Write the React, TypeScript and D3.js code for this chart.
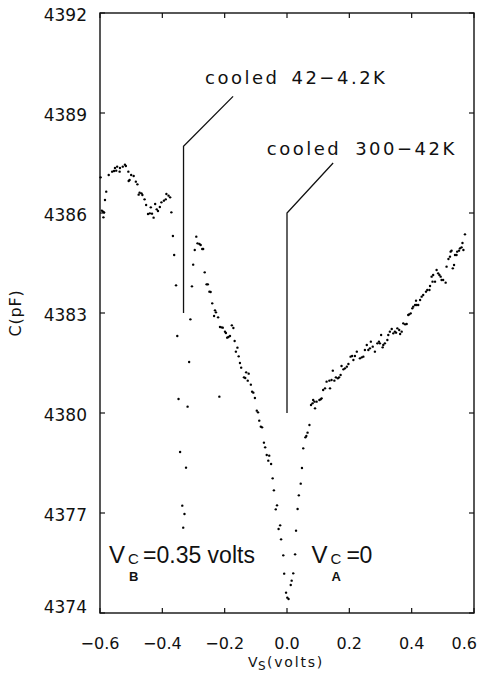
import React from "react";
import * as d3 from "d3";

// Axis ticks
const xTicks = [-0.6, -0.4, -0.2, 0, 0.2, 0.4, 0.6];
const yTicks = [4374, 4377, 4380, 4383, 4386, 4389, 4392];

// Hump region at negative bias
const humpV = [-0.598, -0.594, -0.59, -0.587, -0.589, -0.584, -0.58, -0.572, -0.561, -0.555, -0.552, -0.548, -0.545, -0.537, -0.536, -0.527, -0.52, -0.517, -0.509, -0.5, -0.492, -0.505, -0.508, -0.485, -0.48, -0.473, -0.467, -0.476, -0.464, -0.457, -0.452, -0.437, -0.423, -0.408, -0.403, -0.395, -0.389, -0.387, -0.38, -0.375, -0.446, -0.44, -0.433, -0.428, -0.418, -0.414, -0.371];
const humpC = [4387.07, 4386.07, 4386.04, 4386.02, 4385.87, 4386.39, 4386.64, 4387.14, 4387.24, 4387.26, 4387.35, 4387.27, 4387.39, 4387.24, 4387.35, 4387.39, 4387.45, 4387.41, 4387.24, 4387.14, 4387.11, 4386.99, 4386.96, 4386.94, 4386.86, 4386.61, 4386.59, 4386.55, 4386.54, 4386.41, 4386.24, 4386.17, 4386.27, 4386.18, 4386.32, 4386.37, 4386.41, 4386.57, 4386.52, 4386.47, 4385.97, 4385.99, 4385.98, 4385.86, 4386.11, 4386.06, 4386.02];

// Dip at V_CB
const dipBV = [-0.366, -0.362, -0.356, -0.352, -0.348, -0.343, -0.336, -0.333, -0.329, -0.324, -0.319, -0.314, -0.31, -0.305, -0.301, -0.296, -0.291];
const dipBC = [4385.31, 4384.74, 4383.83, 4382.31, 4380.42, 4378.83, 4377.22, 4376.56, 4376.97, 4378.36, 4380.19, 4381.53, 4382.81, 4383.8, 4384.45, 4384.89, 4385.29];

// Descending branch toward V_CA
const descV = [-0.287, -0.281, -0.277, -0.272, -0.269, -0.264, -0.258, -0.254, -0.249, -0.245, -0.24, -0.231, -0.228, -0.234, -0.221, -0.215, -0.21, -0.206, -0.177, -0.172, -0.199, -0.196, -0.192, -0.188, -0.183, -0.168, -0.159, -0.164, -0.155, -0.151, -0.147, -0.131, -0.123, -0.138, -0.134, -0.126, -0.116, -0.112, -0.108, -0.103, -0.217, -0.097, -0.093, -0.089, -0.084, -0.08, -0.074, -0.07, -0.065, -0.057, -0.06, -0.051, -0.046, -0.042, -0.032, -0.036, -0.022, -0.027, -0.019, -0.012, -0.009, -0.003, 0.001, 0.005];
const descC = [4385.09, 4385.07, 4385.04, 4384.92, 4384.92, 4384.22, 4383.86, 4383.86, 4383.64, 4383.63, 4383.29, 4383.08, 4383.02, 4382.91, 4382.87, 4382.58, 4382.57, 4382.56, 4382.63, 4382.55, 4382.44, 4382.4, 4382.26, 4382.28, 4382.31, 4382.16, 4381.96, 4381.84, 4381.7, 4381.5, 4381.36, 4381.22, 4381.18, 4381.07, 4381.05, 4380.97, 4380.85, 4380.64, 4380.61, 4380.45, 4380.49, 4380.07, 4380.02, 4379.77, 4379.59, 4379.57, 4379.11, 4378.97, 4378.74, 4378.72, 4378.57, 4378.47, 4378.04, 4377.68, 4377.23, 4377.11, 4376.63, 4376.52, 4376.21, 4375.73, 4375.18, 4374.61, 4374.46, 4374.42];

// Ascending branch
const ascV = [0.012, 0.015, 0.02, 0.026, 0.029, 0.034, 0.038, 0.044, 0.048, 0.052, 0.059, 0.062, 0.066, 0.072, 0.077, 0.082, 0.088, 0.09, 0.084, 0.095, 0.104, 0.108, 0.111, 0.116, 0.122, 0.127, 0.136, 0.138, 0.143, 0.147, 0.152, 0.157, 0.163, 0.167, 0.172, 0.175, 0.181, 0.186, 0.192, 0.197, 0.204, 0.209, 0.213, 0.218, 0.224, 0.234, 0.24, 0.245, 0.25, 0.256, 0.261, 0.266, 0.269, 0.275, 0.282, 0.29, 0.295, 0.298, 0.307, 0.309, 0.314, 0.322, 0.325, 0.302, 0.33, 0.336, 0.341, 0.346, 0.35, 0.354, 0.36, 0.363, 0.368, 0.373, 0.379, 0.384, 0.389, 0.392, 0.397, 0.402, 0.405, 0.411, 0.416, 0.421, 0.414, 0.427, 0.432, 0.437, 0.446, 0.45, 0.457, 0.459, 0.464, 0.469, 0.467, 0.475, 0.48, 0.485, 0.489, 0.493, 0.496, 0.501, 0.509, 0.512, 0.518, 0.523, 0.525, 0.528, 0.532, 0.536, 0.539, 0.544, 0.546, 0.552, 0.555, 0.56, 0.566, 0.563, 0.571];
const ascC = [4374.84, 4374.97, 4375.19, 4375.76, 4376.47, 4377.12, 4377.53, 4377.88, 4378.35, 4378.94, 4379.27, 4379.31, 4379.41, 4379.64, 4380.24, 4380.29, 4380.34, 4380.14, 4380.39, 4380.34, 4380.39, 4380.41, 4380.44, 4380.69, 4380.74, 4380.94, 4380.97, 4380.74, 4380.99, 4381.27, 4380.97, 4381.07, 4381.04, 4381.07, 4381.14, 4381.41, 4381.31, 4381.34, 4381.39, 4381.47, 4381.69, 4381.71, 4381.59, 4381.71, 4381.84, 4381.64, 4381.67, 4381.69, 4381.89, 4382.04, 4381.89, 4381.94, 4382.14, 4381.99, 4381.84, 4382.09, 4382.14, 4382.09, 4381.97, 4382.04, 4382.09, 4382.19, 4382.34, 4382.34, 4382.44, 4382.52, 4382.39, 4382.44, 4382.41, 4382.54, 4382.49, 4382.37, 4382.44, 4382.69, 4382.66, 4382.67, 4382.94, 4382.96, 4382.99, 4383.14, 4383.19, 4383.24, 4383.24, 4383.24, 4383.37, 4383.39, 4383.49, 4383.54, 4383.64, 4383.69, 4383.69, 4383.81, 4384.09, 4384.14, 4383.94, 4383.94, 4384.29, 4384.19, 4384.14, 4384.09, 4383.99, 4383.99, 4383.91, 4384.39, 4384.62, 4384.69, 4384.84, 4384.87, 4384.34, 4384.44, 4384.74, 4384.74, 4384.84, 4384.87, 4384.94, 4384.97, 4384.89, 4385.1, 4385.36];

// Annotation leader lines (V, C) and label anchors
const leaderB: [number, number][] = [[-0.332, 4383], [-0.332, 4388], [-0.173, 4389.5]];
const leaderA: [number, number][] = [[0, 4380], [0, 4386], [0.148, 4387.5]];
const labelB = { v: -0.263, c: 4389.87, word: "cooled", temp: "42−4.2K" };
const labelA = { v: -0.065, c: 4387.74, word: "cooled", temp: "300−42K" };
const vcbPos = { v: -0.571, c: 4375.5 };
const vcaPos = { v: 0.079, c: 4375.5 };

const fmtX = (d: number) => (d < 0 ? "−" : "") + Math.abs(d).toFixed(1);

export default function App() {
  const W = 488, H = 690;
  const x = d3.scaleLinear().domain([-0.6, 0.6]).range([100, 474]);
  const y = d3.scaleLinear().domain([4374, 4392]).range([613, 13]);
  const [x0, x1] = x.range();
  const [yb, yt] = y.range();
  const line = d3.line<[number, number]>().x(d => x(d[0])).y(d => y(d[1]));

  const series = [
    [humpV, humpC],
    [dipBV, dipBC],
    [descV, descC],
    [ascV, ascC],
  ];
  const tickFont = "'DejaVu Sans', sans-serif";
  const bigFont = "'Liberation Sans', Arial, sans-serif";

  return (
    <svg width={W} height={H} style={{ position: "absolute", left: 0, top: 0, background: "#fff" }}>
      <rect x={0} y={0} width={W} height={H} fill="#fff" />
      {/* frame */}
      <rect x={x0} y={yt} width={x1 - x0} height={yb - yt} fill="none" stroke="#111" strokeWidth={1.4} />
      {/* x ticks */}
      {xTicks.map((t, i) => (
        <g key={"xt" + i}>
          <line x1={x(t)} x2={x(t)} y1={yb} y2={yb - 5} stroke="#111" strokeWidth={1.2} />
          <line x1={x(t)} x2={x(t)} y1={yt} y2={yt + 5} stroke="#111" strokeWidth={1.2} />
          <text
            x={i === xTicks.length - 1 ? x(t) + 3 : x(t)}
            y={649}
            textAnchor={i === xTicks.length - 1 ? "end" : "middle"}
            fontFamily={tickFont}
            fontSize={16}
            fill="#111"
          >
            {fmtX(t)}
          </text>
        </g>
      ))}
      {/* y ticks */}
      {yTicks.map((t, i) => (
        <g key={"yt" + i}>
          <line x1={x0} x2={x0 + 5} y1={y(t)} y2={y(t)} stroke="#111" strokeWidth={1.2} />
          <line x1={x1} x2={x1 - 5} y1={y(t)} y2={y(t)} stroke="#111" strokeWidth={1.2} />
          <text x={87} y={i === 0 ? y(t) : y(t) + 8} textAnchor="end" fontFamily={tickFont} fontSize={17} fill="#111">
            {t}
          </text>
        </g>
      ))}
      {/* axis titles */}
      <text
        transform={`translate(21,${(yt + yb) / 2}) rotate(-90)`}
        textAnchor="middle"
        fontFamily={tickFont}
        fontSize={16}
        letterSpacing={0.8}
        fill="#111"
      >
        C(pF)
      </text>
      <text y={667} fontFamily={tickFont} fontSize={14} fill="#111">
        <tspan x={248}>V</tspan>
        <tspan x={258} y={670} fontSize={12}>S</tspan>
        <tspan x={267} y={667} letterSpacing={1.8}>(volts)</tspan>
      </text>
      {/* data points */}
      {series.map(([vs, cs], si) =>
        vs.map((v, i) => <circle key={si + "-" + i} cx={x(v)} cy={y(cs[i])} r={1.2} fill="#000" />)
      )}
      {/* leader lines */}
      <path d={line(leaderB) || ""} fill="none" stroke="#111" strokeWidth={1.3} />
      <path d={line(leaderA) || ""} fill="none" stroke="#111" strokeWidth={1.3} />
      {/* annotation labels */}
      {[labelB, labelA].map((l, i) => (
        <text key={"lab" + i} x={x(l.v)} y={y(l.c)} fontFamily={tickFont} fontSize={18} letterSpacing={2.5} fill="#111">
          {l.word}
          <tspan dx={i === 0 ? 12 : 14}>{l.temp}</tspan>
        </text>
      ))}
      {/* V_CB and V_CA labels */}
      <g fontFamily={bigFont} fill="#111">
        <text x={x(vcbPos.v)} y={y(vcbPos.c)} fontSize={24}>V</text>
        <text x={x(vcbPos.v) + 19} y={y(vcbPos.c) + 1} fontSize={15}>C</text>
        <text x={x(vcbPos.v) + 20} y={y(vcbPos.c) + 18} fontSize={13} fontWeight="bold">B</text>
        <text x={x(vcbPos.v) + 34} y={y(vcbPos.c)} fontSize={23}>=0.35 volts</text>
        <text x={x(vcaPos.v)} y={y(vcaPos.c)} fontSize={24}>V</text>
        <text x={x(vcaPos.v) + 19} y={y(vcaPos.c) + 1} fontSize={15}>C</text>
        <text x={x(vcaPos.v) + 20} y={y(vcaPos.c) + 18} fontSize={13} fontWeight="bold">A</text>
        <text x={x(vcaPos.v) + 35} y={y(vcaPos.c)} fontSize={23}>=</text>
        <text x={x(vcaPos.v) + 48} y={y(vcaPos.c)} fontSize={23}>0</text>
      </g>
    </svg>
  );
}
